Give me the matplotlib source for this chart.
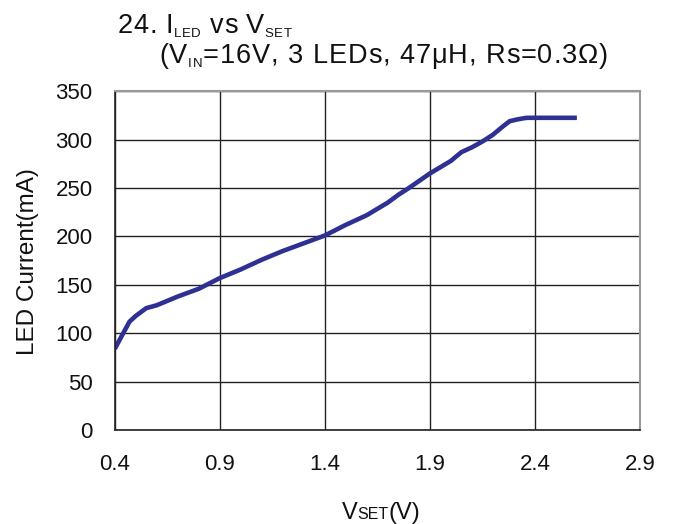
import numpy as np
import matplotlib.pyplot as plt

plt.rcParams['font.family'] = ['Liberation Sans', 'DejaVu Sans']

# values
vset = [0.40, 0.47, 0.50, 0.55, 0.60, 0.70, 0.80, 0.90, 1.00, 1.10, 1.20, 1.30,
        1.40, 1.50, 1.60, 1.70, 1.75, 1.80, 1.90, 2.00, 2.05, 2.10, 2.15, 2.20,
        2.25, 2.28, 2.32, 2.36, 2.40, 2.50, 2.60]
iled = [84, 112, 118, 126, 129, 138, 146, 157, 166, 176, 185, 193,
        201, 212, 222, 235, 243, 250, 265, 278, 287, 292, 298, 305,
        314, 319, 321, 322.5, 322.5, 322.5, 322.5]

xticks = [0.4, 0.9, 1.4, 1.9, 2.4, 2.9]
yticks = [0, 50, 100, 150, 200, 250, 300, 350]

W, H = 675, 524
fig = plt.figure(figsize=(W / 100, H / 100), dpi=100)
ax = fig.add_axes([0.170, 0.179, 0.778, 0.647])

ax.plot(vset, iled, color='#2E3192', lw=3.3, solid_capstyle='butt')

ax.set_xlim(0.4, 2.9)
ax.set_ylim(0, 350)
ax.set_xticks(xticks)
ax.set_yticks(yticks)
ax.set_xticklabels([f'{t:.1f}' for t in xticks])
ax.tick_params(length=0, labelsize=16, colors='#111111')
ax.tick_params(axis='x', pad=17)
ax.tick_params(axis='y', pad=16)
ax.grid(True, color='#222222', lw=1)
ax.set_axisbelow(True)

for s in ['left', 'bottom']:
    ax.spines[s].set_color('#222222')
    ax.spines[s].set_linewidth(1.2)
for s in ['top', 'right']:
    ax.spines[s].set_color('#999999')
    ax.spines[s].set_linewidth(1.5)

fig.text(28 / W, 1 - 262 / H, 'LED Current(mA)', fontsize=17.5, rotation=90,
         ha='center', va='center', color='#111111')

renderer = fig.canvas.get_renderer()


def draw_pieces(x, y, pieces, track=0.0):
    # x, y in pixels from the top-left; each piece is (text, size, drop)
    for s, size, drop in pieces:
        for ch in (s if track else [s]):
            t = fig.text(x / W, 1 - (y + drop) / H, ch, fontsize=size,
                         va='baseline', ha='left', color='#111111')
            x = t.get_window_extent(renderer).x1 + track


draw_pieces(118, 33, [('24. I', 19.5, 0), ('LED', 9.5, 4), (' vs V', 19.5, 0),
                      ('SET', 9.5, 4)], track=0.6)
draw_pieces(159, 63, [('(V', 19.5, 0), ('IN', 9.5, 4),
                      ('=16V, 3 LEDs, 47μH, Rs=0.3Ω)', 19.5, 0)], track=0.9)
draw_pieces(342, 519, [('V', 17, 0), ('SET', 11.5, 0), ('(V)', 17, 0)])

fig.savefig('out.png', dpi=100)
